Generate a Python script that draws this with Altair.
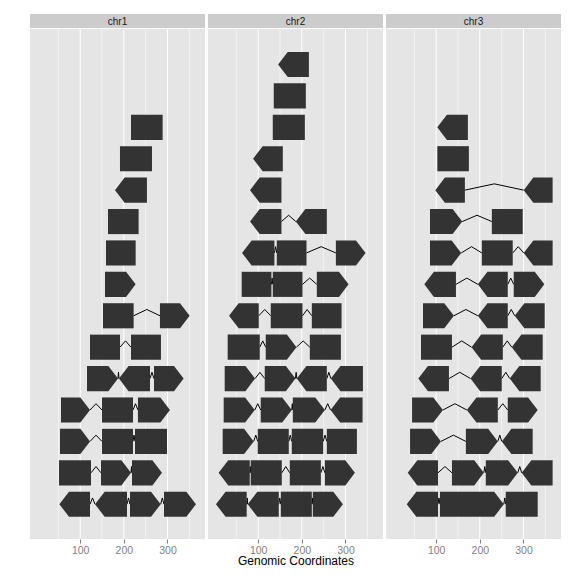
import altair as alt
import pandas as pd

# ---------------- data ----------------
CHROMS = ["chr1", "chr2", "chr3"]

chr1_row = [1, 1, 1, 1, 2, 2, 2, 3, 3, 3, 4, 4, 4, 5, 5, 5, 6, 6, 7, 7, 8, 9, 10, 11, 12, 13]
chr1_start = [52.3, 134, 214.1, 292, 51.5, 147.7, 218.7, 53.8, 150, 225.6, 56.1, 150, 232.4,
              115.6, 188.9, 269.1, 122.5, 216.4, 152.3, 282.8, 156.9, 159.2, 163.7, 179.8, 191.2, 216.4]
chr1_end = [122.5, 207.3, 284.4, 365.3, 124.8, 216.4, 287.4, 122.5, 221, 298.9, 122.5, 221, 305.7,
            186.6, 259.9, 337, 191.2, 285.1, 222.5, 350.8, 227.1, 227.1, 233.9, 253, 264.5, 288.9]
chr1_strand = ["-", "-", "+", "+", "*", "+", "+", "+", "*", "*", "+", "*", "+",
               "+", "-", "+", "*", "*", "*", "+", "+", "*", "*", "-", "*", "*"]

chr2_row = [1, 1, 1, 1, 2, 2, 2, 2, 3, 3, 3, 3, 4, 4, 4, 4, 5, 5, 5, 5, 6, 6, 6, 7, 7, 7,
            8, 8, 8, 9, 9, 9, 10, 10, 11, 12, 13, 14, 15]
chr2_start = [3.3, 76, 151.8, 225.2, 9.4, 82.9, 172.4, 252.8, 18.6, 99, 177, 257.3,
              20.9, 105.9, 179.3, 265.8, 23.2, 115, 188.5, 266.5, 30.1, 117.3, 218.3,
              33.2, 128.8, 222.9, 62.2, 133.4, 234.4, 63, 142.6, 278, 81.4, 186.2,
              81.4, 88.3, 133.4, 135.7, 145.7]
chr2_end = [73.7, 147.2, 222.9, 294.1, 80.6, 154.1, 243.6, 321.6, 89.8, 170.1, 248.9, 326.2,
            92.1, 177, 252.8, 339.2, 92.8, 185.4, 257.3, 340, 103.6, 187.7, 289.5,
            101.3, 201.5, 291, 130.3, 201.5, 307.1, 137.2, 210.7, 346.1, 153.3, 257.3,
            153.3, 156.4, 206.9, 209.2, 216.1]
chr2_strand = ["-", "-", "*", "+", "-", "*", "*", "+", "+", "*", "*", "*",
               "+", "+", "+", "-", "+", "+", "-", "-", "*", "+", "*",
               "-", "*", "*", "*", "*", "+", "-", "*", "+", "-", "-",
               "-", "-", "*", "*", "-"]

chr3_row = [1, 1, 1, 2, 2, 2, 2, 3, 3, 3, 4, 4, 4, 5, 5, 5, 6, 6, 6, 7, 7, 7,
            8, 8, 8, 9, 9, 9, 10, 10, 11, 11, 12, 13]
chr3_start = [32.5, 108.6, 259.4, 34.8, 136.1, 213.7, 296, 40.1, 168, 250.3,
              44.7, 170.3, 264, 59.1, 178.7, 268.6, 65.2, 181, 273.2, 69.8, 195.5, 280,
              72.8, 195.5, 277.7, 85.8, 204.6, 300.6, 85.8, 227.5, 98, 300.6, 102.6, 102.6]
chr3_end = [104.1, 254.9, 332.6, 104.1, 209.2, 286.9, 366.8, 110.9, 241.2, 321.1,
            115.5, 241.2, 332.6, 129.2, 250.3, 339.4, 136.1, 252.6, 344, 140.6, 264, 348.6,
            145.2, 264, 347.8, 157.4, 275.4, 366.8, 159.7, 298.3, 165.8, 366.8, 174.9, 172.6]
chr3_strand = ["-", "+", "*", "-", "+", "+", "-", "+", "+", "-",
               "+", "-", "+", "-", "-", "-", "*", "-", "-", "+", "-", "-",
               "-", "-", "+", "+", "*", "-", "+", "*", "-", "-", "*", "-"]

MAJOR_TICKS = [100, 200, 300]
MINOR_TICKS = [50, 150, 250, 350]

DATA = {
    "chr1": (chr1_row, chr1_start, chr1_end, chr1_strand),
    "chr2": (chr2_row, chr2_start, chr2_end, chr2_strand),
    "chr3": (chr3_row, chr3_start, chr3_end, chr3_strand),
}

# ---------------- styling constants ----------------
X_DOMAIN = [-15, 386]
Y_DOMAIN = [-0.107, 16.13]
TIP = 22          # arrow head depth (data units)
HALF = 0.4        # half exon height (row units)
PEAK = 0.2        # chevron peak height
PANEL_W = 175
PANEL_H = 510
STRIP_H = 14
FONT = "Liberation Sans"
FILL = "#333333"


def build_tables(rows, starts, ends, strands):
    poly, chev = [], []
    for i, (r, s, e, st) in enumerate(zip(rows, starts, ends, strands)):
        lo, hi = r - HALF, r + HALF
        if st == "+":
            pts = [(s, lo, hi), (e - TIP, lo, hi), (e, r, r)]
        elif st == "-":
            pts = [(s, r, r), (s + TIP, lo, hi), (e, lo, hi)]
        else:
            pts = [(s, lo, hi), (e, lo, hi)]
        for k, (x, a, b) in enumerate(pts):
            poly.append({"eid": "e%d" % i, "x": x, "ylo": a, "yhi": b})
    by_row = {}
    for r, s, e in zip(rows, starts, ends):
        by_row.setdefault(r, []).append((s, e))
    cid = 0
    for r, ex in by_row.items():
        ex.sort()
        for (s1, e1), (s2, e2) in zip(ex[:-1], ex[1:]):
            if s2 > e1:
                mid = (e1 + s2) / 2
                for k, (x, y) in enumerate([(e1, r), (mid, r + PEAK), (s2, r)]):
                    chev.append({"cid": "c%d" % cid, "x": x, "y": y, "k": k})
                cid += 1
    return pd.DataFrame(poly), pd.DataFrame(chev)


def xenc(title):
    ax = alt.Axis(values=MAJOR_TICKS, grid=False, domain=False, tickColor="#7F7F7F",
                  tickSize=4, tickWidth=1, labelColor="#7F7F7F", labelFont=FONT,
                  labelFontSize=10.5, labelPadding=2, titleFont=FONT, titleFontSize=12,
                  titleFontWeight="normal", titleColor="#000000", titlePadding=0,
                  title=title)
    return alt.X("x:Q", scale=alt.Scale(domain=X_DOMAIN, nice=False, zero=False), axis=ax)


def yscale():
    return alt.Scale(domain=Y_DOMAIN, nice=False, zero=False)


panels = []
for c in CHROMS:
    rows, starts, ends, strands = DATA[c]
    poly_df, chev_df = build_tables(rows, starts, ends, strands)
    title = "Genomic Coordinates" if c == "chr2" else " "

    minor = alt.Chart(pd.DataFrame({"x": MINOR_TICKS})).mark_rule(
        color="#F2F2F2", strokeWidth=1).encode(x=xenc(title))
    major = alt.Chart(pd.DataFrame({"x": MAJOR_TICKS})).mark_rule(
        color="#FFFFFF", strokeWidth=1).encode(x=xenc(title))
    lines = alt.Chart(chev_df).mark_line(color="#000000", strokeWidth=1).encode(
        x=xenc(title),
        y=alt.Y("y:Q", scale=yscale(), axis=None),
        detail="cid:N",
        order="k:Q",
    )
    exons = alt.Chart(poly_df).mark_area(
        fill=FILL, orient="vertical", opacity=1).encode(
        x=xenc(title),
        y=alt.Y("ylo:Q", scale=yscale(), axis=None, stack=None),
        y2="yhi:Q",
        detail="eid:N",
    )
    panel = alt.layer(minor, major, lines, exons).properties(width=PANEL_W, height=PANEL_H)

    strip_df = pd.DataFrame({"label": [c]})
    strip_bg = alt.Chart(strip_df).mark_rect(color="#CCCCCC").encode(
        x=alt.value(0), x2=alt.value(PANEL_W), y=alt.value(0), y2=alt.value(STRIP_H))
    strip_txt = alt.Chart(strip_df).mark_text(
        font=FONT, fontSize=10, color="#1A1A1A", baseline="middle", align="center").encode(
        x=alt.value(PANEL_W / 2), y=alt.value(STRIP_H / 2 + 0.5), text="label:N")
    strip = alt.layer(strip_bg, strip_txt).properties(width=PANEL_W, height=STRIP_H)

    panels.append(alt.vconcat(strip, panel, spacing=0))

chart = alt.hconcat(*panels, spacing=3).properties(
    padding={"left": 30, "top": 14, "right": 10, "bottom": 5},
    background="#FFFFFF",
).configure_view(fill="#E5E5E5", strokeWidth=0)

chart.save("out.html", embed_options={"renderer": "svg", "actions": False})
